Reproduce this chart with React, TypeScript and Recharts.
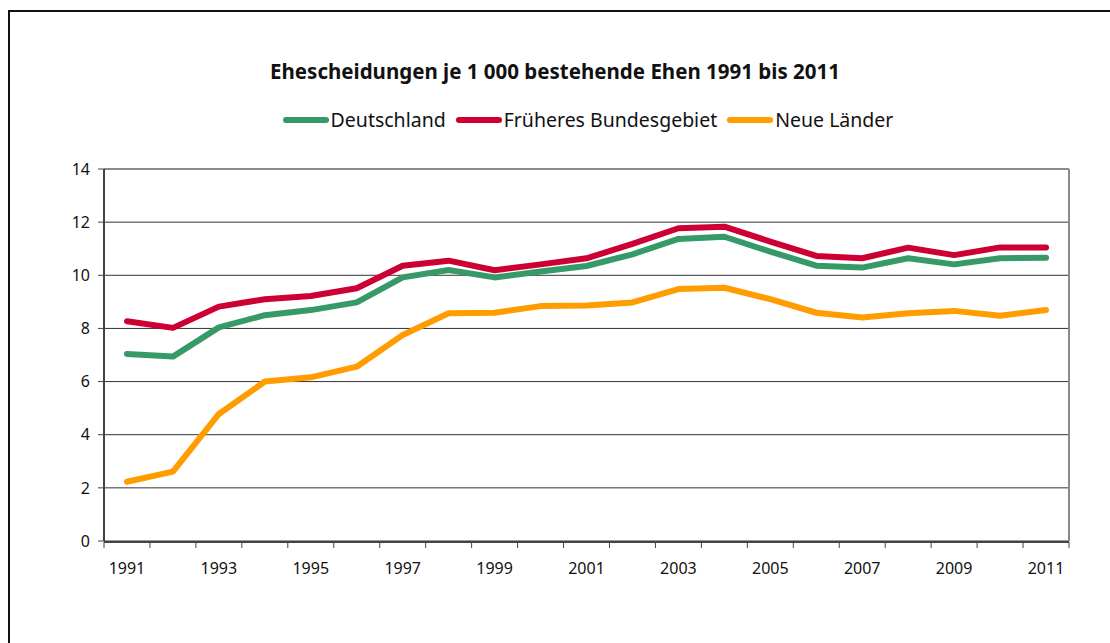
import {
  LineChart,
  Line,
  XAxis,
  YAxis,
  CartesianGrid,
  ReferenceLine
} from "recharts";

const years = [
  1991, 1992, 1993, 1994, 1995, 1996, 1997, 1998, 1999, 2000, 2001,
  2002, 2003, 2004, 2005, 2006, 2007, 2008, 2009, 2010, 2011
];
const deutschland = [
  7.04, 6.94, 8.04, 8.5, 8.69, 8.98, 9.92, 10.2, 9.92, 10.14, 10.35,
  10.79, 11.37, 11.45, 10.89, 10.36, 10.29, 10.64, 10.41, 10.64, 10.66
];
const frueheresBundesgebiet = [
  8.27, 8.02, 8.82, 9.1, 9.22, 9.51, 10.36, 10.55, 10.19, 10.41, 10.64,
  11.18, 11.77, 11.83, 11.27, 10.73, 10.64, 11.04, 10.76, 11.05, 11.05
];
const neueLaender = [
  2.23, 2.61, 4.78, 6.0, 6.16, 6.56, 7.75, 8.57, 8.59, 8.84, 8.86,
  8.98, 9.48, 9.53, 9.1, 8.59, 8.41, 8.57, 8.66, 8.48, 8.69
];
const yTicks = [0, 2, 4, 6, 8, 10, 12, 14];
const labelTicks = [1991, 1993, 1995, 1997, 1999, 2001, 2003, 2005, 2007, 2009, 2011];
// tick marks sit between the years, like the original
const boundaryTicks = [...years.map((y) => y - 0.5), 2011.5];

const series = [
  { key: "de", name: "Deutschland", color: "#359a68" },
  { key: "fb", name: "Früheres Bundesgebiet", color: "#cc0033" },
  { key: "nl", name: "Neue Länder", color: "#ff9c00" }
];

const data = years.map((year, i) => ({
  year,
  de: deutschland[i],
  fb: frueheresBundesgebiet[i],
  nl: neueLaender[i]
}));

const font = "'Noto Sans', sans-serif";

function LegendRow() {
  return (
    <div
      style={{
        position: "absolute",
        top: 106,
        left: 0,
        width: 1110,
        display: "flex",
        justifyContent: "center",
        alignItems: "center",
        paddingLeft: 76,
        boxSizing: "border-box"
      }}
    >
      {series.map((s) => (
        <div key={s.key} style={{ display: "flex", alignItems: "center", marginRight: 10 }}>
          <span
            style={{
              display: "inline-block",
              width: 46,
              height: 6,
              borderRadius: 3,
              background: s.color,
              marginRight: 2
            }}
          />
          <span style={{ fontFamily: font, fontSize: 19.5, color: "#111" }}>{s.name}</span>
        </div>
      ))}
    </div>
  );
}

export default function App() {
  return (
    <div
      style={{
        position: "absolute",
        left: 0,
        top: 0,
        width: 1110,
        height: 643,
        overflow: "hidden",
        background: "#fff"
      }}
    >
      <div
        style={{
          position: "absolute",
          left: 8,
          top: 10,
          width: 1200,
          height: 700,
          border: "2px solid #111"
        }}
      />
      <div
        style={{
          position: "absolute",
          top: 57,
          left: 0,
          width: 1110,
          textAlign: "center",
          fontFamily: font,
          fontWeight: 700,
          fontSize: 20.5,
          color: "#111"
        }}
      >
        Ehescheidungen je 1 000 bestehende Ehen 1991 bis 2011
      </div>
      <LegendRow />
      <div style={{ position: "absolute", left: 0, top: 0 }}>
        <LineChart
          width={1110}
          height={643}
          data={data}
          margin={{ top: 169, right: 41, left: 0, bottom: 100 }}
        >
          <CartesianGrid vertical={false} stroke="#333" />
          <XAxis
            xAxisId="main"
            dataKey="year"
            type="number"
            domain={[1990.5, 2011.5]}
            ticks={boundaryTicks}
            tickFormatter={() => ""}
            height={1}
            tickSize={6}
            axisLine={{ stroke: "#444", strokeWidth: 2 }}
            tickLine={{ stroke: "#444" }}
            interval={0}
          />
          <XAxis
            xAxisId="lbl"
            dataKey="year"
            type="number"
            domain={[1990.5, 2011.5]}
            ticks={labelTicks}
            height={1}
            axisLine={false}
            tickLine={false}
            tickSize={0}
            tickMargin={22}
            interval={0}
            tick={{ fill: "#111", fontSize: 16, fontFamily: font }}
          />
          <YAxis
            domain={[0, 14]}
            ticks={yTicks}
            width={104}
            tickSize={6}
            tickMargin={8}
            interval={0}
            axisLine={{ stroke: "#444", strokeWidth: 2 }}
            tickLine={{ stroke: "#444" }}
            tick={{ fill: "#111", fontSize: 16, fontFamily: font }}
          />
          <ReferenceLine y={14} xAxisId="main" stroke="#8a8a8a" strokeWidth={2} />
          <ReferenceLine x={2011.5} xAxisId="main" stroke="#8a8a8a" strokeWidth={2} />
          {series.map((s) => (
            <Line
              key={s.key}
              xAxisId="main"
              type="linear"
              dataKey={s.key}
              name={s.name}
              stroke={s.color}
              strokeWidth={6}
              strokeLinecap="round"
              strokeLinejoin="round"
              dot={false}
              activeDot={false}
              isAnimationActive={false}
            />
          ))}
        </LineChart>
      </div>
    </div>
  );
}
